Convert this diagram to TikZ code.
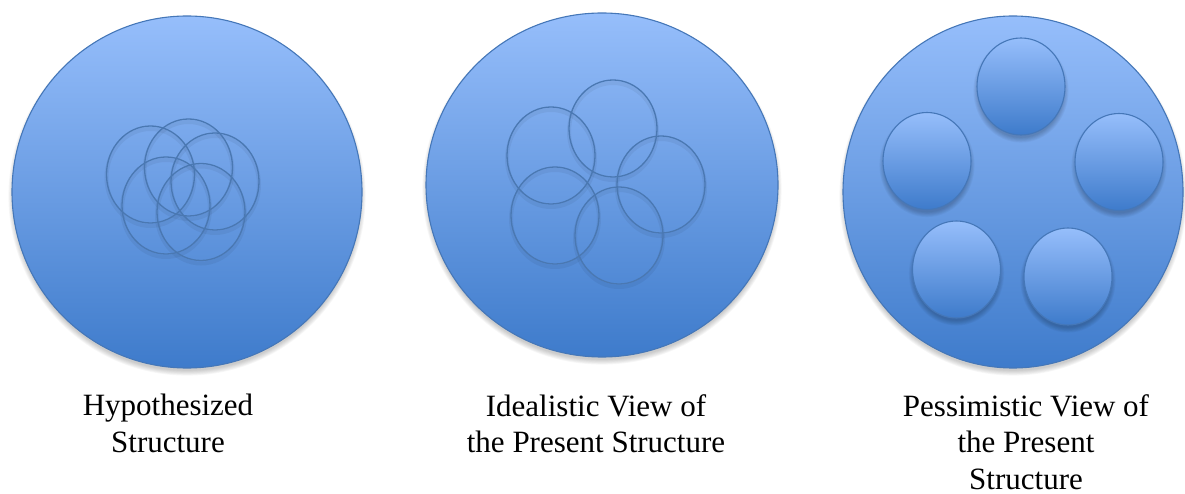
\documentclass[tikz,border=0pt]{standalone}
\usepackage{fontspec}
\setmainfont{Liberation Serif}
\usetikzlibrary{shapes.geometric}
\definecolor{gtop}{HTML}{96BEFB}
\definecolor{gbot}{HTML}{3E7BCB}
\definecolor{edge}{HTML}{4577B8}
\definecolor{ring}{HTML}{4A78B2}
\tikzset{
  bigdisc/.style={ellipse, inner sep=0pt, draw=edge, line width=1.1pt,
    top color=gtop, bottom color=gbot},
  smalldisc/.style={ellipse, inner sep=0pt, minimum width=88pt, minimum height=97pt,
    draw=edge, line width=1.1pt, top color=gtop, bottom color=gbot},
  ringc/.style={ellipse, inner sep=0pt, minimum width=88pt, minimum height=97pt,
    draw=ring, line width=1.3pt},
  caption/.style={inner sep=0pt, anchor=north, align=center,
    font=\fontsize{31}{36.5}\selectfont}
}
\newcommand{\softshadow}[5]{% x, y, rx, ry, opacity
  \foreach \k in {1,...,7}{
    \fill[black, opacity=#5] (#1,#2-4) ellipse ({#3+\k*0.8-2} and {#4+\k*0.8-2});
  }
}
\begin{document}
\begin{tikzpicture}[x=1pt,y=1pt]
\useasboundingbox (0,0) rectangle (1185,-494);
% shadows of large discs
\softshadow{187}{-192}{175}{176}{0.03}
\softshadow{602}{-185}{176}{172}{0.03}
\softshadow{1013}{-192}{170}{176}{0.03}
% large discs
\node[bigdisc, minimum width=350pt, minimum height=352pt] (hyp) at (187,-192) {};
\node[bigdisc, minimum width=352pt, minimum height=344pt] (ide) at (602,-185) {};
\node[bigdisc, minimum width=340pt, minimum height=352pt] (pes) at (1013,-192) {};
% ring shadows
\foreach \x/\y in {150.5/174.5, 188.5/167.5, 215/181.5, 166/205.5, 201/212,
                   551/155.5, 613/128.5, 661/184.5, 555/215.5, 619/235.5}{
  \draw[black, opacity=0.05, line width=4pt] (\x,-\y-3) ellipse (44 and 48.5);
}
% hypothesized rings
\node[ringc] (h1) at (150.5,-174.5) {};
\node[ringc] (h2) at (188.5,-167.5) {};
\node[ringc] (h3) at (215,-181.5) {};
\node[ringc] (h4) at (166,-205.5) {};
\node[ringc] (h5) at (201,-212) {};
% idealistic rings
\node[ringc] (i1) at (551,-155.5) {};
\node[ringc] (i2) at (613,-128.5) {};
\node[ringc] (i3) at (661,-184.5) {};
\node[ringc] (i4) at (555,-215.5) {};
\node[ringc] (i5) at (619,-235.5) {};
% pessimistic discs
\foreach \x/\y in {1021/86.5, 927/161, 1119/162, 956.5/269.5, 1068/276.5}{
  \softshadow{\x}{-\y}{44}{48.5}{0.03}
}
\node[smalldisc] (p1) at (1021,-86.5) {};
\node[smalldisc] (p2) at (927,-161) {};
\node[smalldisc] (p3) at (1119,-162) {};
\node[smalldisc] (p4) at (956.5,-269.5) {};
\node[smalldisc] (p5) at (1068,-276.5) {};
% captions
\node[caption] (t1) at (168,-394) {Hypothesized\\Structure};
\node[caption] (t2) at (596,-394) {Idealistic View of\\the Present Structure};
\node[caption] (t3) at (1026,-394) {Pessimistic View of\\the Present\\Structure};
\end{tikzpicture}
\end{document}
